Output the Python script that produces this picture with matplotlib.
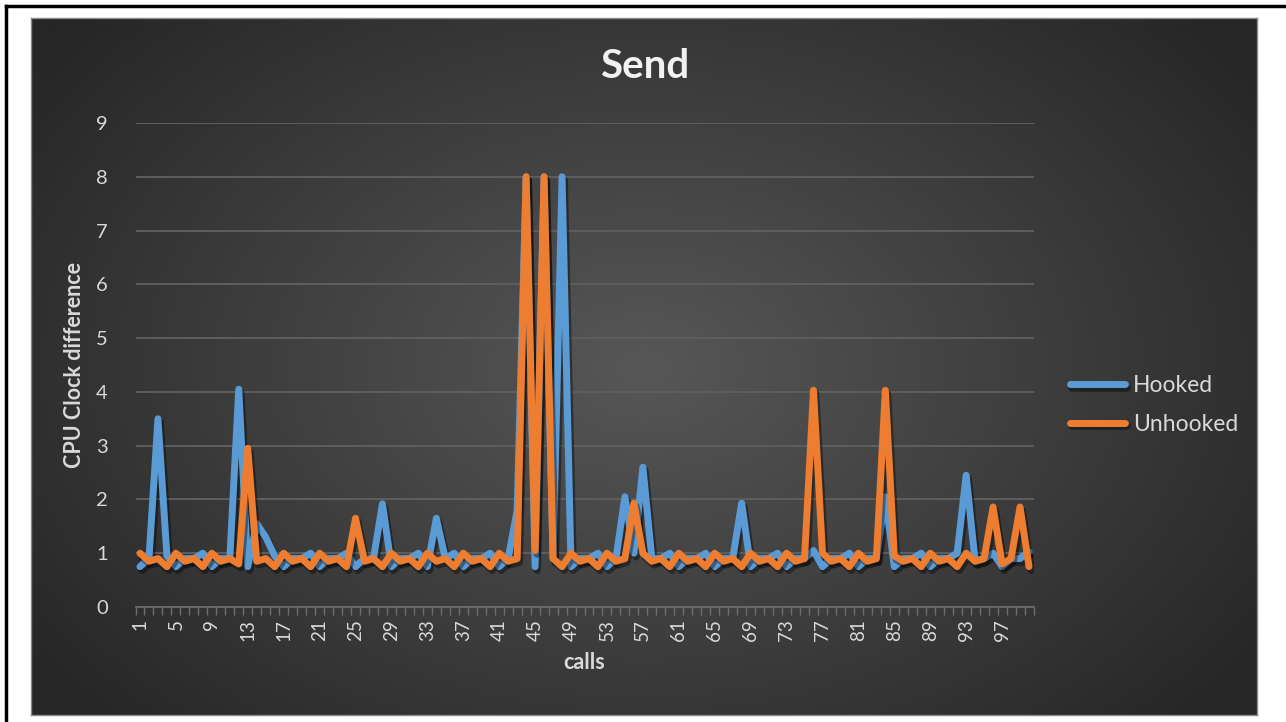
import numpy as np
import matplotlib
matplotlib.use("Agg")
import matplotlib.pyplot as plt
import matplotlib.patheffects as pe
from matplotlib.colors import LinearSegmentedColormap

# values (calls 1..100)
calls = list(range(1, 101))
hooked = [
    0.75, 0.9, 3.5, 0.95, 0.75, 0.9, 0.9, 1.0, 0.75, 0.9,
    0.9, 4.05, 0.75, 1.55, 1.3, 0.95, 0.75, 0.9, 0.9, 1.0,
    0.75, 0.9, 0.9, 1.0, 0.75, 0.9, 0.9, 1.92, 0.75, 0.9,
    0.9, 1.0, 0.75, 1.65, 0.9, 1.0, 0.75, 0.9, 0.9, 1.0,
    0.75, 0.9, 1.8, 8.0, 0.75, 8.0, 0.9, 8.0, 0.75, 0.9,
    0.9, 1.0, 0.75, 0.9, 2.05, 1.0, 2.6, 0.9, 0.9, 1.0,
    0.75, 0.9, 0.9, 1.0, 0.75, 0.9, 0.9, 1.93, 0.75, 0.9,
    0.9, 1.0, 0.75, 0.9, 0.9, 1.05, 0.75, 0.9, 0.9, 1.0,
    0.75, 0.9, 0.9, 2.05, 0.75, 0.9, 0.9, 1.0, 0.75, 0.9,
    0.9, 1.0, 2.45, 0.85, 0.9, 1.0, 0.75, 0.9, 0.9, 1.03,
]
unhooked = [
    1.0, 0.85, 0.9, 0.75, 1.0, 0.85, 0.9, 0.75, 1.0, 0.85,
    0.9, 0.8, 2.95, 0.85, 0.9, 0.75, 1.0, 0.85, 0.9, 0.75,
    1.0, 0.85, 0.9, 0.75, 1.65, 0.85, 0.9, 0.75, 1.0, 0.85,
    0.9, 0.75, 1.0, 0.85, 0.9, 0.75, 1.0, 0.85, 0.9, 0.75,
    1.0, 0.85, 0.9, 8.0, 1.05, 8.0, 0.9, 0.75, 1.0, 0.85,
    0.9, 0.75, 1.0, 0.85, 0.9, 1.93, 1.0, 0.85, 0.9, 0.75,
    1.0, 0.85, 0.9, 0.75, 1.0, 0.85, 0.9, 0.75, 1.0, 0.85,
    0.9, 0.75, 1.0, 0.85, 0.9, 4.03, 1.0, 0.85, 0.9, 0.75,
    1.0, 0.85, 0.9, 4.03, 0.95, 0.85, 0.9, 0.75, 1.0, 0.85,
    0.9, 0.75, 1.0, 0.85, 0.9, 1.86, 0.8, 0.9, 1.86, 0.75,
]
xtick_labels = calls[::4]

W, H = 1286, 722
fig = plt.figure(figsize=(W / 100, H / 100), dpi=100, facecolor="white")
plt.rcParams["font.family"] = ["Lato", "DejaVu Sans"]

# outer black frame (only left and top edges are visible in the image)
fig.add_artist(plt.Line2D([6 / W, 6 / W], [0, 1 - 6 / H], color="black", lw=2.5))
fig.add_artist(plt.Line2D([6 / W, 1], [1 - 6 / H, 1 - 6 / H], color="black", lw=2.5))

# dark chart area with radial gradient
bg = fig.add_axes([31 / W, 1 - 715 / H, (1257 - 31) / W, (715 - 18) / H])
yy, xx = np.mgrid[0:1:400j, 0:1:700j]
r = np.sqrt(((xx - 0.5) / 0.62) ** 2 + ((yy - 0.5) / 0.75) ** 2)
cmap = LinearSegmentedColormap.from_list("bgg", ["#575757", "#262626"])
bg.imshow(np.clip(r, 0, 1), cmap=cmap, aspect="auto", extent=[0, 1, 0, 1], vmin=0, vmax=1)
bg.set_xticks([])
bg.set_yticks([])
for s in bg.spines.values():
    s.set_color("#8a8a8a")
    s.set_linewidth(1)

ax = fig.add_axes([135.5 / W, 1 - 607 / H, 898 / W, 484 / H])
ax.set_facecolor("none")
txt = "#d9d9d9"

shadow = [pe.SimpleLineShadow(offset=(1.5, -2.5), shadow_color="black", alpha=0.4, linewidth=5.5),
          pe.Normal()]
ax.plot(calls, hooked, color="#5b9bd5", lw=5, solid_joinstyle="round",
        solid_capstyle="round", label="Hooked", path_effects=shadow, zorder=3)
ax.plot(calls, unhooked, color="#ed7d31", lw=5, solid_joinstyle="round",
        solid_capstyle="round", label="Unhooked", path_effects=shadow, zorder=4)

ax.set_xlim(0.5, 100.5)
ax.set_ylim(0, 9)
ax.set_yticks(range(0, 10))
ax.grid(axis="y", color="#5e5e5e", lw=1.4)
ax.set_axisbelow(True)
ax.set_xticks(xtick_labels)
ax.set_xticklabels([str(v) for v in xtick_labels], rotation=90)
ax.set_xticks(np.arange(0.5, 101, 1), minor=True)
ax.tick_params(axis="x", which="major", length=0, pad=9, labelcolor=txt, labelsize=13.5)
ax.tick_params(axis="x", which="minor", length=6, color="#6e6e6e", width=1)
ax.tick_params(axis="y", length=0, pad=20, labelcolor=txt, labelsize=14.5)
for s in ["top", "right", "left"]:
    ax.spines[s].set_visible(False)
ax.spines["bottom"].set_color("#6e6e6e")
ax.spines["bottom"].set_linewidth(1.2)

ax.set_xlabel("calls", color=txt, fontsize=15.5, fontweight="bold", labelpad=8)
ax.set_ylabel("CPU Clock difference", color=txt, fontsize=15.5, fontweight="bold", labelpad=8)
fig.text(645 / W, 1 - 66 / H, "Send", color="#f2f2f2", fontsize=29, fontweight="bold",
         ha="center", va="center")

leg = ax.legend(loc="center left", bbox_to_anchor=(1049 / W, 1 - 405 / H),
                bbox_transform=fig.transFigure, frameon=False, fontsize=16.5,
                handlelength=2.4, labelspacing=0.75, handletextpad=0.35)
for t in leg.get_texts():
    t.set_color(txt)
for l in leg.get_lines():
    l.set_linewidth(5)

fig.savefig("out.png", dpi=100, facecolor="white")
